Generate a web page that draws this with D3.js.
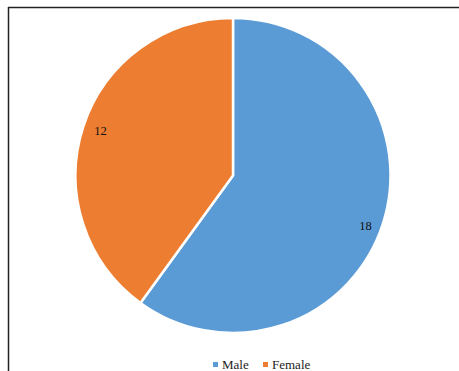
<!DOCTYPE html>
<html><head><meta charset="utf-8">
<script src="https://cdn.jsdelivr.net/npm/d3@7"></script>
<style>html,body{margin:0;padding:0;background:#fff;}svg{display:block;}</style>
</head><body>
<svg id="c" width="459" height="371"></svg>
<script>
const categories = ["Male", "Female"];
const values = [18, 12];
const colors = ["#5B9BD5", "#ED7D31"];

const svg = d3.select("#c");
// frame
svg.append("line").attr("x1", 8).attr("y1", 7.5).attr("x2", 459).attr("y2", 7.5).attr("stroke", "#222").attr("stroke-width", 1.5);
svg.append("line").attr("x1", 8.5).attr("y1", 7).attr("x2", 8.5).attr("y2", 371).attr("stroke", "#222").attr("stroke-width", 1.5);

const cx = 233, cy = 175.5, R = 157.5;
const data = categories.map((c, i) => ({cat: c, value: values[i], color: colors[i]}));
const pie = d3.pie().value(d => d.value).sort(null);
const arcs = pie(data);
const arc = d3.arc().innerRadius(0).outerRadius(R);
const labelArc = d3.arc().innerRadius(R * 0.885).outerRadius(R * 0.885);

const g = svg.append("g").attr("transform", `translate(${cx},${cy})`);
g.selectAll("path").data(arcs).join("path")
  .attr("d", arc).attr("fill", d => d.data.color)
  .attr("stroke", "#fff").attr("stroke-width", 2.5).attr("stroke-linejoin", "round");
g.selectAll("text").data(arcs).join("text")
  .attr("transform", d => {
    const [x, y] = labelArc.centroid(d);
    // Excel best-fit nudges the large slice's label slightly downward
    const dy = d.index === 0 ? 7 : -1;
    return `translate(${x},${y + dy})`;
  })
  .attr("text-anchor", "middle").attr("dominant-baseline", "central")
  .attr("font-family", "'Liberation Serif', 'Times New Roman', serif")
  .attr("font-size", 12.5).attr("fill", "#111")
  .text(d => d.data.value);

// legend
const legend = svg.append("g");
const legX = [213, 263];
categories.forEach((c, i) => {
  legend.append("rect").attr("x", legX[i]).attr("y", 362).attr("width", 5).attr("height", 5).attr("fill", colors[i]);
  legend.append("text").attr("x", legX[i] + 9).attr("y", 369)
    .attr("font-family", "'Liberation Serif', 'Times New Roman', serif")
    .attr("font-size", 13).attr("fill", "#222").text(c);
});
</script>
</body></html>
